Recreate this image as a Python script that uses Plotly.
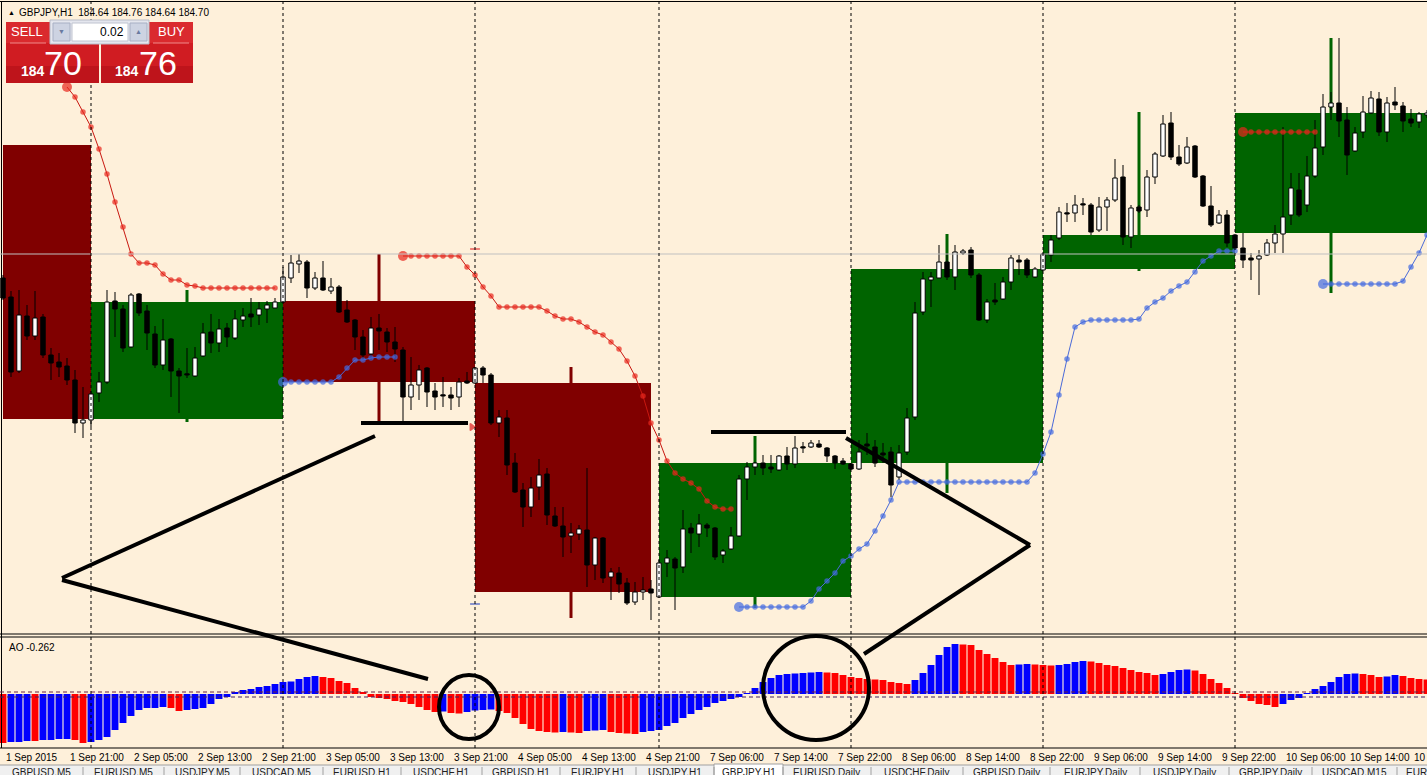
import plotly.graph_objects as go

W, H = 1427, 775

# ---------------- data (GBPJPY H1, bar index 0 = 1 Sep 2015 13:00) ----------------
OPEN = [184.46, 184.27, 183.53, 184.08, 183.88, 184.07, 183.69, 183.62, 183.58, 183.44,
        183.01, 183.04, 183.31, 183.42, 184.23, 184.15, 183.77, 184.30, 184.13, 183.90,
        183.59, 183.85, 183.53, 183.50, 183.48, 183.68, 183.92, 183.81, 183.96, 183.86,
        184.04, 184.10, 184.09, 184.15, 184.16, 184.22, 184.46, 184.60, 184.62, 184.36,
        184.46, 184.33, 184.37, 184.14, 184.04, 183.87, 183.70, 183.96, 183.92, 183.82,
        183.74, 183.27, 183.39, 183.56, 183.33, 183.29, 183.29, 183.27, 183.43, 183.41,
        183.56, 183.49, 183.01, 183.06, 182.61, 182.34, 182.17, 182.37, 182.50, 182.08,
        181.98, 181.88, 181.90, 181.94, 181.59, 181.86, 181.47, 181.51, 181.41, 181.22,
        181.32, 181.35, 181.27, 181.61, 181.65, 181.57, 181.96, 181.90, 181.99, 181.96,
        181.69, 181.75, 181.88, 182.45, 182.57, 182.61, 182.57, 182.54, 182.68, 182.60,
        182.76, 182.77, 182.80, 182.76, 182.68, 182.63, 182.60, 182.55, 182.80, 182.77,
        182.71, 182.72, 182.47, 182.72, 183.07, 184.12, 184.44, 184.46, 184.62, 184.47,
        184.71, 184.74, 184.49, 184.04, 184.24, 184.25, 184.42, 184.64, 184.64, 184.47,
        184.54, 184.69, 184.86, 185.11, 185.11, 185.20, 185.19, 184.94, 185.17, 185.24,
        185.47, 184.87, 185.17, 185.14, 185.47, 185.68, 186.01, 185.67, 185.61, 185.78,
        185.48, 185.18, 185.01, 185.09, 184.89, 184.76, 184.66, 184.65, 184.69, 184.81,
        184.90, 185.09, 185.34, 185.19, 185.48, 185.77, 186.17, 186.21, 186.04, 185.73,
        185.92, 186.11, 186.25, 185.92, 186.22, 186.18, 186.05, 186.02, 186.09]
HIGH = [184.49, 184.33, 184.34, 184.19, 184.33, 184.10, 183.76, 183.71, 183.66, 183.54,
        183.37, 183.33, 183.52, 184.34, 184.32, 184.19, 184.31, 184.31, 184.19, 183.98,
        184.05, 183.86, 183.56, 183.76, 183.77, 184.01, 184.10, 184.05, 184.01, 184.14,
        184.16, 184.26, 184.22, 184.23, 184.26, 184.57, 184.69, 184.70, 184.64, 184.52,
        184.63, 184.46, 184.39, 184.24, 184.05, 183.94, 184.07, 184.10, 183.96, 183.97,
        183.77, 183.67, 183.59, 183.57, 183.41, 183.47, 183.37, 183.46, 183.52, 183.57,
        183.58, 183.51, 183.14, 183.14, 182.71, 182.41, 182.47, 182.65, 182.56, 182.17,
        182.17, 182.01, 181.99, 182.56, 181.87, 181.87, 181.56, 181.57, 181.46, 181.42,
        181.47, 181.44, 181.64, 181.74, 181.67, 182.14, 182.01, 182.10, 182.01, 181.97,
        181.75, 181.97, 182.49, 182.62, 182.62, 182.69, 182.69, 182.69, 182.77, 182.88,
        182.82, 182.84, 182.84, 182.77, 182.69, 182.66, 182.61, 182.84, 182.91, 182.84,
        182.81, 182.77, 182.79, 183.16, 184.22, 184.52, 184.52, 184.79, 184.71, 184.79,
        184.75, 184.77, 184.51, 184.25, 184.41, 184.47, 184.69, 184.69, 184.66, 184.57,
        184.72, 184.89, 185.17, 185.21, 185.29, 185.26, 185.21, 185.27, 185.27, 185.65,
        185.59, 185.19, 185.19, 185.54, 185.72, 186.09, 186.12, 185.79, 185.87, 185.79,
        185.49, 185.38, 185.14, 185.14, 184.90, 184.91, 184.71, 184.74, 184.85, 184.99,
        185.97, 185.51, 185.51, 185.68, 186.04, 186.30, 186.32, 186.86, 186.17, 185.97,
        186.28, 186.33, 186.32, 186.27, 186.37, 186.22, 186.15, 186.12, 186.14]
LOW = [184.24, 183.47, 183.51, 183.84, 183.84, 183.66, 183.44, 183.47, 183.39, 182.91,
       182.86, 182.97, 183.22, 183.40, 183.87, 183.72, 183.76, 184.08, 183.74, 183.56,
       183.54, 183.27, 183.11, 183.46, 183.47, 183.67, 183.71, 183.72, 183.77, 183.84,
       183.97, 183.97, 183.99, 184.01, 184.16, 184.21, 184.41, 184.51, 184.26, 184.34,
       184.33, 184.30, 184.11, 184.01, 183.74, 183.64, 183.64, 183.74, 183.72, 183.62,
       183.02, 183.14, 183.24, 183.17, 183.14, 183.17, 183.14, 183.17, 183.40, 183.40,
       183.41, 182.99, 182.87, 182.49, 182.31, 181.97, 182.07, 182.24, 181.99, 181.97,
       181.67, 181.71, 181.84, 181.37, 181.44, 181.41, 181.24, 181.31, 181.19, 181.19,
       181.24, 181.04, 181.26, 181.47, 181.14, 181.51, 181.71, 181.77, 181.87, 181.64,
       181.61, 181.74, 181.87, 182.24, 182.49, 182.49, 182.51, 182.53, 182.54, 182.56,
       182.71, 182.76, 182.76, 182.62, 182.55, 182.59, 182.54, 182.54, 182.69, 182.57,
       182.61, 182.27, 182.44, 182.69, 183.04, 184.09, 184.17, 184.46, 184.44, 184.34,
       184.69, 184.46, 184.03, 184.01, 184.19, 184.24, 184.34, 184.49, 184.46, 184.46,
       184.53, 184.62, 184.84, 185.02, 185.02, 185.09, 184.89, 184.92, 184.93, 185.22,
       184.79, 184.76, 185.11, 185.07, 185.40, 185.67, 185.64, 185.58, 185.60, 185.46,
       185.17, 184.97, 185.00, 184.77, 184.74, 184.56, 184.44, 184.29, 184.68, 184.71,
       184.71, 184.99, 185.07, 185.12, 185.46, 185.69, 186.04, 185.87, 185.49, 185.72,
       185.86, 186.10, 185.88, 185.82, 186.14, 185.92, 185.97, 185.96, 186.06]
CLOSE = [184.26, 183.52, 184.09, 183.88, 184.06, 183.69, 183.61, 183.57, 183.44, 183.01,
         183.04, 183.30, 183.42, 184.22, 184.15, 183.76, 184.29, 184.11, 183.91, 183.59,
         183.84, 183.53, 183.48, 183.49, 183.66, 183.91, 183.81, 183.95, 183.87, 184.05,
         184.08, 184.07, 184.15, 184.19, 184.22, 184.47, 184.61, 184.63, 184.36, 184.46,
         184.34, 184.37, 184.12, 184.02, 183.87, 183.69, 183.96, 183.93, 183.82, 183.75,
         183.27, 183.39, 183.54, 183.32, 183.27, 183.28, 183.26, 183.42, 183.41, 183.56,
         183.49, 183.01, 183.07, 182.59, 182.32, 182.17, 182.36, 182.49, 182.09, 181.98,
         181.87, 181.91, 181.95, 181.59, 181.86, 181.46, 181.52, 181.40, 181.21, 181.32,
         181.34, 181.31, 181.61, 181.66, 181.56, 181.95, 181.91, 182.00, 181.96, 181.67,
         181.73, 181.88, 182.45, 182.57, 182.61, 182.56, 182.55, 182.68, 182.60, 182.76,
         182.76, 182.81, 182.77, 182.68, 182.61, 182.60, 182.55, 182.72, 182.78, 182.61,
         182.69, 182.39, 182.71, 183.06, 184.11, 184.45, 184.47, 184.62, 184.47, 184.72,
         184.73, 184.49, 184.04, 184.22, 184.22, 184.42, 184.66, 184.62, 184.49, 184.55,
         184.70, 184.84, 185.12, 185.10, 185.19, 185.19, 184.92, 185.17, 185.24, 185.46,
         184.87, 185.16, 185.13, 185.47, 185.70, 186.00, 185.67, 185.60, 185.77, 185.47,
         185.18, 184.99, 185.09, 184.81, 184.76, 184.64, 184.64, 184.68, 184.81, 184.90,
         185.07, 185.36, 185.09, 185.48, 185.76, 186.17, 186.21, 186.03, 185.69, 185.91,
         186.12, 186.26, 185.92, 186.21, 186.19, 186.03, 186.01, 186.10, 186.11]

# daily candle overlay
DAY_START = [0, 11, 35, 59, 82, 106, 130, 154]
DAY_LEN = [11, 24, 24, 22, 24, 24, 24, 24]
DAY_MID = [-1, 23, 47, 71, 94, 118, 142, 166]
DAY_OPEN = [185.79, 183.05, 184.23, 183.41, 181.27, 182.61, 184.55, 184.91]
DAY_CLOSE = [183.05, 184.22, 183.42, 181.32, 182.61, 184.55, 184.89, 186.11]
DAY_HIGH = [185.79, 184.34, 184.70, 183.57, 182.88, 184.90, 186.12, 186.86]
DAY_LOW = [183.05, 183.02, 183.02, 181.06, 181.16, 182.31, 184.53, 184.31]

# trailing-stop dots (start bar, values)
RED_STOP = [
    (8, [186.37, 186.27, 186.12, 185.97, 185.75, 185.50, 185.22, 184.97, 184.70, 184.61,
         184.61, 184.59, 184.50, 184.44, 184.44, 184.39, 184.38, 184.36, 184.36, 184.36,
         184.36, 184.36, 184.36, 184.36, 184.36, 184.36, 184.36]),
    (50, [184.68, 184.68, 184.68, 184.68, 184.68, 184.68, 184.68, 184.68, 184.57, 184.49,
          184.37, 184.28, 184.17, 184.17, 184.17, 184.17, 184.17, 184.17, 184.13, 184.08,
          184.05, 184.05, 184.02, 183.97, 183.92, 183.89, 183.82, 183.75, 183.63, 183.48,
          183.28, 183.01, 182.84, 182.63, 182.51, 182.45, 182.41, 182.35, 182.23, 182.17,
          182.15, 182.15]),
    (155, [185.92, 185.92, 185.92, 185.92, 185.92, 185.92, 185.92, 185.92, 185.92, 185.92]),
]
BLUE_STOP = [
    (35, [183.42, 183.42, 183.42, 183.42, 183.42, 183.42, 183.42, 183.47, 183.56, 183.64,
          183.64, 183.66, 183.67, 183.67, 183.67]),
    (92, [181.17, 181.17, 181.17, 181.17, 181.17, 181.17, 181.17, 181.17, 181.17, 181.23,
          181.35, 181.43, 181.51, 181.63, 181.68, 181.75, 181.80, 181.93, 182.08, 182.24,
          182.42, 182.42, 182.42, 182.42, 182.42, 182.42, 182.42, 182.42, 182.42, 182.42,
          182.42, 182.42, 182.42, 182.42, 182.42, 182.42, 182.42, 182.51, 182.70, 182.92,
          183.29, 183.65, 183.97, 184.02, 184.04, 184.04, 184.04, 184.04, 184.04, 184.04,
          184.05, 184.16, 184.22, 184.26, 184.33, 184.38, 184.42, 184.52, 184.63, 184.68,
          184.73, 184.73, 184.73]),
    (165, [184.40, 184.40, 184.40, 184.40, 184.40, 184.40, 184.40, 184.40, 184.40, 184.40,
           184.43, 184.57, 184.71, 184.89]),
]

# Awesome Oscillator
AO = [-0.98, -0.96, -0.96, -0.94, -0.94, -0.92, -0.92, -0.90, -0.90, -0.92,
      -0.98, -0.96, -0.92, -0.86, -0.72, -0.58, -0.44, -0.32, -0.28, -0.28,
      -0.26, -0.28, -0.34, -0.32, -0.30, -0.28, -0.20, -0.10, -0.06, 0.04,
      0.08, 0.10, 0.14, 0.16, 0.20, 0.24, 0.25, 0.30, 0.34, 0.36,
      0.34, 0.32, 0.26, 0.22, 0.12, 0.04, -0.06, -0.08, -0.10, -0.14,
      -0.16, -0.20, -0.26, -0.32, -0.36, -0.35, -0.38, -0.39, -0.36, -0.33,
      -0.32, -0.31, -0.34, -0.38, -0.48, -0.60, -0.70, -0.74, -0.76, -0.77,
      -0.76, -0.77, -0.78, -0.74, -0.73, -0.72, -0.76, -0.78, -0.79, -0.80,
      -0.76, -0.74, -0.72, -0.64, -0.58, -0.48, -0.40, -0.32, -0.26, -0.18,
      -0.14, -0.10, -0.06, 0.02, 0.12, 0.24, 0.32, 0.38, 0.40, 0.41,
      0.42, 0.43, 0.44, 0.43, 0.42, 0.38, 0.34, 0.32, 0.30, 0.29,
      0.28, 0.24, 0.22, 0.20, 0.28, 0.42, 0.58, 0.78, 0.94, 1.00,
      0.99, 0.98, 0.88, 0.80, 0.72, 0.64, 0.58, 0.59, 0.60, 0.59,
      0.58, 0.57, 0.58, 0.60, 0.64, 0.66, 0.65, 0.62, 0.58, 0.56,
      0.52, 0.48, 0.44, 0.42, 0.38, 0.40, 0.44, 0.48, 0.49, 0.47,
      0.40, 0.30, 0.22, 0.12, 0.02, -0.08, -0.14, -0.20, -0.22, -0.26,
      -0.20, -0.12, -0.08, 0.02, 0.10, 0.16, 0.24, 0.34, 0.40, 0.41,
      0.40, 0.38, 0.34, 0.35, 0.38, 0.36, 0.32, 0.30, 0.29]
AO_DIR = ("rbbbrbbbbr" "rbbbbbbbbb" "brrbbbbbbb" "bbbbbbbbbb" "rrrrrrrrrr"
          "rrrrrbrrbb" "bbrrrrrrrr" "brrbbbrrrr" "bbbbbbbbbb" "bbbbbbbbbb"
          "bbbrrrrrrr" "rrrrbbbbbb" "rrrrrrrbbr" "rrbbbbrrrr" "rrrrrbbbbr"
          "rrrrrrrrrr" "bbbbbbbbbb" "rrrbbrrrr")

LABEL_BARS = [0, 8, 16, 24, 32, 40, 48, 56, 64, 72, 80, 88, 96, 104, 112, 120, 128,
              136, 144, 152, 160, 168, 176]
LABEL_TEXT = ["1 Sep 2015", "1 Sep 21:00", "2 Sep 05:00", "2 Sep 13:00", "2 Sep 21:00",
              "3 Sep 05:00", "3 Sep 13:00", "3 Sep 21:00", "4 Sep 05:00", "4 Sep 13:00",
              "4 Sep 21:00", "7 Sep 06:00", "7 Sep 14:00", "7 Sep 22:00", "8 Sep 06:00",
              "8 Sep 14:00", "8 Sep 22:00", "9 Sep 06:00", "9 Sep 14:00", "9 Sep 22:00",
              "10 Sep 06:00", "10 Sep 14:00", "10 Sep 22:00"]
SEPARATOR_BARS = [11, 35, 59, 82, 106, 130, 154]
BID = 184.70

TABS = ["GBPUSD,M5", "EURUSD,M5", "USDJPY,M5", "USDCAD,M5", "EURUSD,H1", "USDCHF,H1",
        "GBPUSD,H1", "EURJPY,H1", "USDJPY,H1", "GBPJPY,H1", "EURUSD,Daily", "USDCHF,Daily",
        "GBPUSD,Daily", "EURJPY,Daily", "USDJPY,Daily", "GBPJPY,Daily", "USDCAD,M15", "EURUSD,M15"]
TAB_EDGES = [0, 83, 164, 240, 323, 401, 482, 560, 636, 714, 783, 871, 963, 1050, 1140,
             1229, 1312, 1397, 1480]
ACTIVE_TAB = 9

# hand-drawn (screenshot annotation) strokes, in pixels
PAINT_LINES = [(361, 423, 468, 423), (375, 436, 62, 578), (62, 580, 428, 679),
               (711, 432, 846, 432), (846, 438, 1030, 545), (1030, 545, 864, 654)]
PAINT_ELLIPSES = [(439, 675, 499, 739), (763, 636, 869, 740)]

# ---------------- geometry ----------------
BG = "#FEF0DA"
MAROON = "#800000"
DKGREEN = "#006400"
FONT = "Liberation Sans, Arial, sans-serif"


def pxx(px):
    return px / W


def pxy(py):
    return 1 - py / H


MAIN_DOM = [pxy(634), pxy(2)]
AO_DOM = [pxy(748), pxy(637)]
XR = [-0.375, 178.0]

n = len(OPEN)
idx = list(range(n))

fig = go.Figure()

# daily candles (wick + body)
day_col = [MAROON if c < o else DKGREEN for o, c in zip(DAY_OPEN, DAY_CLOSE)]
fig.add_trace(go.Bar(x=DAY_MID, base=DAY_LOW, y=[h - l for h, l in zip(DAY_HIGH, DAY_LOW)],
                     width=0.375, marker=dict(color=day_col, line=dict(width=0)),
                     hoverinfo="skip"))
fig.add_trace(go.Bar(x=DAY_START, base=[min(o, c) for o, c in zip(DAY_OPEN, DAY_CLOSE)],
                     y=[abs(c - o) for o, c in zip(DAY_OPEN, DAY_CLOSE)],
                     width=DAY_LEN, offset=0,
                     marker=dict(color=day_col, line=dict(width=0)), hoverinfo="skip"))

# hourly candles: wick segments outside body
wx, wy = [], []
for i in idx:
    top = max(OPEN[i], CLOSE[i])
    bot = min(OPEN[i], CLOSE[i])
    wx += [i, i, None, i, i, None]
    wy += [HIGH[i], top, None, bot, LOW[i], None]
fig.add_trace(go.Scatter(x=wx, y=wy, mode="lines", line=dict(color="black", width=1),
                         hoverinfo="skip"))
body_base = [min(o, c) for o, c in zip(OPEN, CLOSE)]
body_h = [max(abs(c - o), 0.012) for o, c in zip(OPEN, CLOSE)]
body_col = ["white" if c > o else "black" for o, c in zip(OPEN, CLOSE)]
fig.add_trace(go.Bar(x=idx, base=body_base, y=body_h, width=0.55,
                     marker=dict(color=body_col, line=dict(color="black", width=1)),
                     hoverinfo="skip"))


def stop_trace(segs, dot, linec):
    xs, ys, sz = [], [], []
    for start, vals in segs:
        for k, v in enumerate(vals):
            xs.append(start + k)
            ys.append(v)
            sz.append(10 if k == 0 else 5.5)
        xs.append(None)
        ys.append(None)
        sz.append(0)
    return go.Scatter(x=xs, y=ys, mode="lines+markers",
                      line=dict(color=linec, width=1),
                      marker=dict(color=dot, size=sz, line=dict(width=0)),
                      hoverinfo="skip")


fig.add_trace(stop_trace(RED_STOP, "#E8261C", "#C81810"))
fig.add_trace(stop_trace(BLUE_STOP, "#4169E1", "#4A6AD8"))

# small trade markers
fig.add_trace(go.Scatter(x=[59, 58.6, 59], y=[184.75, 182.97, 181.20], mode="markers",
                         marker=dict(symbol=["line-ew", "triangle-right", "line-ew"], size=[7, 6, 7],
                                     color=["#E02020", "#E02020", "#2040C0"],
                                     line=dict(color=["#E02020", "#E02020", "#2040C0"], width=1.5)),
                         hoverinfo="skip"))

# AO histogram
ao_col = ["#0000FF" if d == "b" else "#FF0000" for d in AO_DIR]
fig.add_trace(go.Bar(x=idx, y=AO, width=0.86, marker=dict(color=ao_col, line=dict(width=0)),
                     xaxis="x2", yaxis="y2", hoverinfo="skip"))

shapes = []
# frame lines
for py in [1.5, 634, 637, 748]:
    shapes.append(dict(type="line", xref="paper", yref="paper", x0=0, x1=1, y0=pxy(py), y1=pxy(py),
                       line=dict(color="black", width=1), layer="above"))
shapes.append(dict(type="line", xref="paper", yref="paper", x0=pxx(1.5), x1=pxx(1.5),
                   y0=pxy(748), y1=pxy(1.5), line=dict(color="black", width=1), layer="above"))
# bid line
shapes.append(dict(type="line", xref="paper", yref="y", x0=0, x1=1, y0=BID, y1=BID,
                   line=dict(color="#C0C0C0", width=1), layer="above"))
# AO level lines
for lv, c in [(0.04, "#6A2040"), (-0.06, "#402060")]:
    shapes.append(dict(type="line", xref="paper", yref="y2", x0=0, x1=1, y0=lv, y1=lv,
                       line=dict(color=c, width=1, dash="4px,3px"), layer="above"))
# day separators
for b in SEPARATOR_BARS:
    shapes.append(dict(type="line", xref="x", yref="paper", x0=b, x1=b, y0=pxy(748), y1=pxy(2),
                       line=dict(color="black", width=1, dash="3px,3px"), layer="above"))
# paint strokes
for x0, y0, x1, y1 in PAINT_LINES:
    shapes.append(dict(type="line", xref="paper", yref="paper", x0=pxx(x0), y0=pxy(y0),
                       x1=pxx(x1), y1=pxy(y1), line=dict(color="black", width=4), layer="above"))
for x0, y0, x1, y1 in PAINT_ELLIPSES:
    shapes.append(dict(type="circle", xref="paper", yref="paper", x0=pxx(x0), y0=pxy(y0),
                       x1=pxx(x1), y1=pxy(y1), line=dict(color="black", width=4), layer="above"))


# one-click trading panel
def rect(x0, y0, x1, y1, fill, line=None, lw=0):
    shapes.append(dict(type="rect", xref="paper", yref="paper", x0=pxx(x0), y0=pxy(y1),
                       x1=pxx(x1), y1=pxy(y0), fillcolor=fill,
                       line=dict(color=line or fill, width=lw), layer="above"))


rect(6, 22, 99, 83, "#D01C22")
rect(101, 22, 193, 83, "#D01C22")
rect(6, 22, 99, 43, "#DA2A2E")
rect(101, 22, 193, 43, "#DA2A2E")
rect(6, 66, 99, 83, "#BE141B")
rect(101, 66, 193, 83, "#BE141B")
rect(50, 20, 149, 44, "#E4E6EE", "#B8BCC8", 1)
rect(53, 23, 70, 41, "#CDD3E2", "#A8B0C4", 1)
rect(72, 23, 128, 41, "white", "#C0C4D0", 1)
rect(130, 23, 147, 41, "#CDD3E2", "#A8B0C4", 1)
shapes.append(dict(type="line", xref="paper", yref="paper", x0=pxx(10), x1=pxx(46), y0=pxy(43),
                   y1=pxy(43), line=dict(color="#F08A8A", width=1), layer="above"))
shapes.append(dict(type="line", xref="paper", yref="paper", x0=pxx(153), x1=pxx(189), y0=pxy(43),
                   y1=pxy(43), line=dict(color="#F08A8A", width=1), layer="above"))

# tab strip
rect(0, 765, W, 775, "#F0F0F0")
shapes.append(dict(type="line", xref="paper", yref="paper", x0=0, x1=1, y0=pxy(765), y1=pxy(765),
                   line=dict(color="#A0A0A0", width=1), layer="above"))
rect(TAB_EDGES[ACTIVE_TAB], 764, TAB_EDGES[ACTIVE_TAB + 1], 776, "white", "#A0A0A0", 1)
for e in TAB_EDGES[1:-1]:
    shapes.append(dict(type="line", xref="paper", yref="paper", x0=pxx(e), x1=pxx(e),
                       y0=pxy(775), y1=pxy(767), line=dict(color="#A0A0A0", width=1), layer="above"))

ann = []
for b, t in zip(LABEL_BARS, LABEL_TEXT):
    ann.append(dict(x=b, xref="x", y=pxy(757), yref="paper", text=t, showarrow=False,
                    xanchor="left", yanchor="middle", xshift=1,
                    font=dict(family=FONT, size=10, color="black")))
for k, t in enumerate(TABS):
    cx = (TAB_EDGES[k] + TAB_EDGES[k + 1]) / 2
    ann.append(dict(x=pxx(cx), xref="paper", y=pxy(772), yref="paper", text=t, showarrow=False,
                    xanchor="center", yanchor="middle",
                    font=dict(family=FONT, size=10, color="#202020")))


def txt(x, y, t, size, color="black", anchor="left", bold=False):
    if bold:
        t = "<b>" + t + "</b>"
    ann.append(dict(x=pxx(x), xref="paper", y=pxy(y), yref="paper", text=t, showarrow=False,
                    xanchor=anchor, yanchor="middle", font=dict(family=FONT, size=size, color=color)))


txt(6, 12, "▲", 7)
txt(17, 12, "GBPJPY,H1  184.64 184.76 184.64 184.70", 10)
txt(7, 647, "AO -0.262", 10)
txt(27, 32, "SELL", 13, "white", "center")
txt(171, 32, "BUY", 13, "white", "center")
txt(126, 32, "0.02", 12, "black", "right")
txt(61.5, 32, "▼", 7, "#6A7AA0", "center")
txt(138.5, 32, "▲", 7, "#6A7AA0", "center")
txt(33, 71, "184", 14, "white", "center", True)
txt(63, 63, "70", 34, "white", "center")
txt(127, 71, "184", 14, "white", "center", True)
txt(158, 63, "76", 34, "white", "center")

fig.update_layout(
    width=W, height=H, margin=dict(l=0, r=0, t=0, b=0),
    paper_bgcolor=BG, plot_bgcolor=BG, barmode="overlay", showlegend=False,
    xaxis=dict(domain=[0, 1], range=XR, visible=False, anchor="y"),
    yaxis=dict(domain=MAIN_DOM, range=[180.90, 187.22], visible=False),
    xaxis2=dict(domain=[0, 1], range=XR, visible=False, anchor="y2"),
    yaxis2=dict(domain=AO_DOM, range=[-1.08, 1.14], visible=False),
    shapes=shapes, annotations=ann,
)

fig.write_html("out.html")
